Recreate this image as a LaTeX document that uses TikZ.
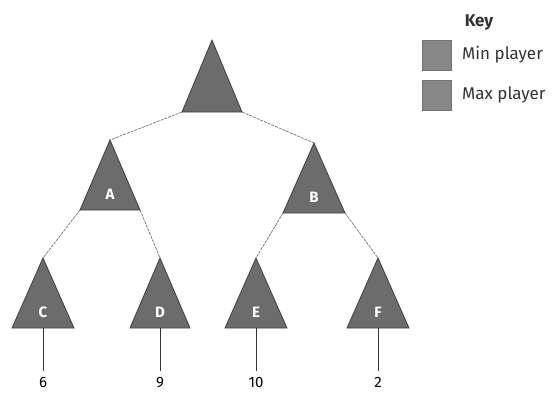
\documentclass[tikz,border=0pt]{standalone}
\usepackage{fontspec}
\setmainfont{Fira Sans}

\definecolor{trigrey}{HTML}{6C6C6C}
\definecolor{keygrey}{HTML}{878787}

\tikzset{
    tri/.style={fill=trigrey, draw=black!75, line width=0.8pt, line join=miter},
    letter/.style={text=white, font=\fontsize{15}{15}\selectfont\bfseries, inner sep=0pt},
    edge/.style={draw=black!55, line width=0.7pt, dash pattern=on 3pt off 1pt},
    leaf/.style={draw=black!80, line width=0.8pt},
    value/.style={font=\fontsize{15}{15}\selectfont, inner sep=0pt, anchor=north},
    keybox/.style={fill=keygrey, draw=black!55, line width=0.5pt, minimum width=29pt, minimum height=30pt, inner sep=0pt},
    keytext/.style={font=\fontsize{17}{17}\selectfont, text=black!80, inner sep=0pt, anchor=west}
}

\begin{document}
\begin{tikzpicture}[x=1pt,y=-1pt]
    \useasboundingbox (0,0) rectangle (557,392);
    % root
    \draw[tri] (212,40) coordinate (R) -- ++(-30,72) coordinate (R-l) -- ++(60,0) coordinate (R-r) -- cycle;
    % inner and leaf triangles
    \foreach \n/\x/\y/\w in {A/110/140/60,B/314/143/62,C/43/258/62,D/160/258/60,E/256/258/62,F/378/258/62}
    {
        \draw[tri] (\x,\y) coordinate (\n) -- ++(-\w/2,70) coordinate (\n-l) -- ++(\w,0) coordinate (\n-r) -- cycle;
        \node[letter] (\n-t) at (\x,\y+54) {\n};
    }
    \draw[edge] (R-l) -- (A);
    \draw[edge] (R-r) -- (B);
    \draw[edge] (A-l) -- (C);
    \draw[edge] (A-r) -- (D);
    \draw[edge] (B-l) -- (E);
    \draw[edge] (B-r) -- (F);
    % leaf values
    \foreach \n/\v in {C/6,D/9,E/10,F/2}
    {
        \node[value] (\n-v) at (\n |- 0,377) {\v};
        \draw[leaf] (\n-l -| \n) -- ([yshift=6pt]\n-v.north);
    }
    % key
    \node[font=\fontsize{17}{17}\selectfont\bfseries, text=black!80, inner sep=0pt] (key) at (479,22) {Key};
    \node[keybox] (kmin) at (436.5,55) {};
    \node[keybox] (kmax) at (436.5,95) {};
    \node[keytext] (kmin-t) at (462,55) {Min player};
    \node[keytext] (kmax-t) at (462,95) {Max player};
\end{tikzpicture}
\end{document}
